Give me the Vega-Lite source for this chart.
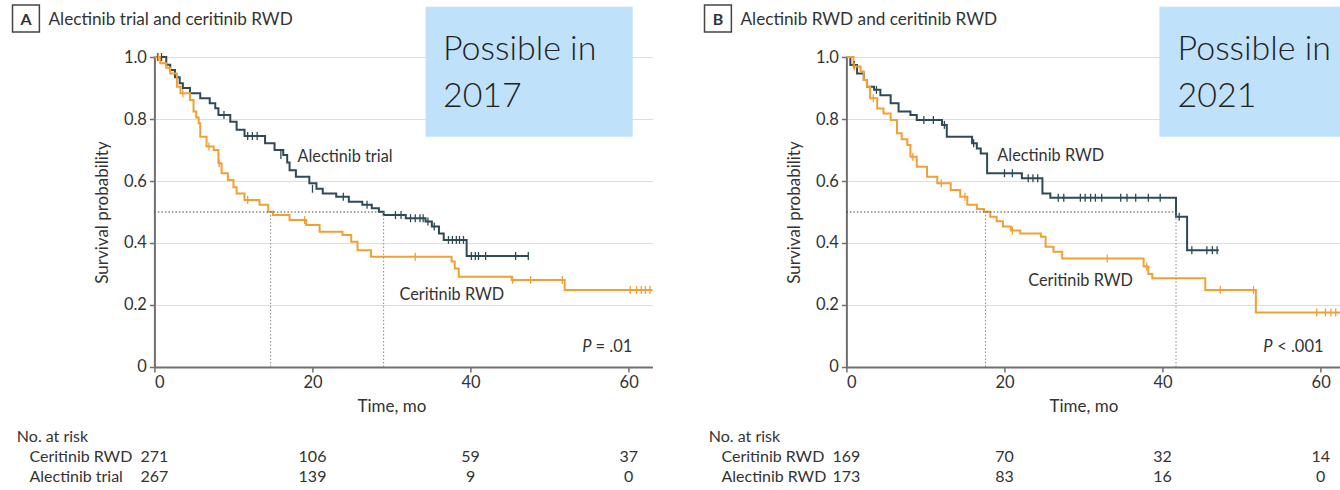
{
 "$schema": "https://vega.github.io/schema/vega-lite/v6.json",
 "background": "white",
 "autosize": {"type": "pad"},
 "padding": {"left": 11.4, "top": 4, "right": 0, "bottom": 0},
 "columns": 2,
 "bounds": "flush",
 "spacing": {"row": 60, "column": 194},
 "config": {
  "font": "Lato",
  "view": {"stroke": null},
  "axis": {"labelFont": "Lato", "titleFont": "Lato", "labelFontSize": 16.5, "titleFontSize": 17, "titleFontWeight": "normal", "labelColor": "#333333", "titleColor": "#333333", "domainColor": "#707070", "domainWidth": 2, "tickColor": "#707070", "tickWidth": 1.5, "tickSize": 5, "gridColor": "#DDDDDD", "gridWidth": 1},
  "text": {"font": "Lato", "color": "#333333"}
 },
 "datasets": {
  "curves": [
   {"panel":"A","arm":"Alectinib trial","time":0,"surv":1},{"panel":"A","arm":"Alectinib trial","time":1.5,"surv":0.975},{"panel":"A","arm":"Alectinib trial","time":2,"surv":0.958},{"panel":"A","arm":"Alectinib trial","time":2.6,"surv":0.935},{"panel":"A","arm":"Alectinib trial","time":3.2,"surv":0.915},{"panel":"A","arm":"Alectinib trial","time":3.6,"surv":0.9},{"panel":"A","arm":"Alectinib trial","time":4.5,"surv":0.883},{"panel":"A","arm":"Alectinib trial","time":5.8,"surv":0.867},{"panel":"A","arm":"Alectinib trial","time":7,"surv":0.851},{"panel":"A","arm":"Alectinib trial","time":7.7,"surv":0.835},{"panel":"A","arm":"Alectinib trial","time":8.1,"surv":0.813},{"panel":"A","arm":"Alectinib trial","time":9.6,"surv":0.791},{"panel":"A","arm":"Alectinib trial","time":10.4,"surv":0.765},{"panel":"A","arm":"Alectinib trial","time":11.4,"surv":0.745},{"panel":"A","arm":"Alectinib trial","time":14,"surv":0.722},{"panel":"A","arm":"Alectinib trial","time":15.2,"surv":0.7},{"panel":"A","arm":"Alectinib trial","time":16.3,"surv":0.684},{"panel":"A","arm":"Alectinib trial","time":16.8,"surv":0.66},{"panel":"A","arm":"Alectinib trial","time":17.1,"surv":0.635},{"panel":"A","arm":"Alectinib trial","time":17.9,"surv":0.614},{"panel":"A","arm":"Alectinib trial","time":19.6,"surv":0.593},{"panel":"A","arm":"Alectinib trial","time":20.5,"surv":0.575},{"panel":"A","arm":"Alectinib trial","time":21.3,"surv":0.56},{"panel":"A","arm":"Alectinib trial","time":23,"surv":0.549},{"panel":"A","arm":"Alectinib trial","time":24.6,"surv":0.533},{"panel":"A","arm":"Alectinib trial","time":26.3,"surv":0.523},{"panel":"A","arm":"Alectinib trial","time":27.5,"surv":0.512},{"panel":"A","arm":"Alectinib trial","time":28.4,"surv":0.501},{"panel":"A","arm":"Alectinib trial","time":29,"surv":0.49},{"panel":"A","arm":"Alectinib trial","time":31.8,"surv":0.48},{"panel":"A","arm":"Alectinib trial","time":34.3,"surv":0.469},{"panel":"A","arm":"Alectinib trial","time":35.1,"surv":0.453},{"panel":"A","arm":"Alectinib trial","time":36,"surv":0.431},{"panel":"A","arm":"Alectinib trial","time":36.6,"surv":0.41},{"panel":"A","arm":"Alectinib trial","time":39.5,"surv":0.358},{"panel":"A","arm":"Alectinib trial","time":47.3,"surv":0.358},
   {"panel":"A","arm":"Ceritinib RWD","time":0,"surv":1},{"panel":"A","arm":"Ceritinib RWD","time":0.75,"surv":0.98},{"panel":"A","arm":"Ceritinib RWD","time":1.5,"surv":0.965},{"panel":"A","arm":"Ceritinib RWD","time":2,"surv":0.947},{"panel":"A","arm":"Ceritinib RWD","time":2.85,"surv":0.904},{"panel":"A","arm":"Ceritinib RWD","time":3.3,"surv":0.883},{"panel":"A","arm":"Ceritinib RWD","time":4.5,"surv":0.861},{"panel":"A","arm":"Ceritinib RWD","time":4.95,"surv":0.824},{"panel":"A","arm":"Ceritinib RWD","time":5.3,"surv":0.805},{"panel":"A","arm":"Ceritinib RWD","time":5.6,"surv":0.786},{"panel":"A","arm":"Ceritinib RWD","time":5.8,"surv":0.743},{"panel":"A","arm":"Ceritinib RWD","time":6.6,"surv":0.711},{"panel":"A","arm":"Ceritinib RWD","time":7.5,"surv":0.7},{"panel":"A","arm":"Ceritinib RWD","time":8.1,"surv":0.657},{"panel":"A","arm":"Ceritinib RWD","time":8.5,"surv":0.625},{"panel":"A","arm":"Ceritinib RWD","time":9.3,"surv":0.603},{"panel":"A","arm":"Ceritinib RWD","time":10,"surv":0.58},{"panel":"A","arm":"Ceritinib RWD","time":10.4,"surv":0.56},{"panel":"A","arm":"Ceritinib RWD","time":11.4,"surv":0.539},{"panel":"A","arm":"Ceritinib RWD","time":13.3,"surv":0.523},{"panel":"A","arm":"Ceritinib RWD","time":14.4,"surv":0.501},{"panel":"A","arm":"Ceritinib RWD","time":15,"surv":0.49},{"panel":"A","arm":"Ceritinib RWD","time":17.1,"surv":0.474},{"panel":"A","arm":"Ceritinib RWD","time":19.2,"surv":0.458},{"panel":"A","arm":"Ceritinib RWD","time":20.9,"surv":0.436},{"panel":"A","arm":"Ceritinib RWD","time":23.8,"surv":0.426},{"panel":"A","arm":"Ceritinib RWD","time":24.9,"surv":0.404},{"panel":"A","arm":"Ceritinib RWD","time":25.7,"surv":0.377},{"panel":"A","arm":"Ceritinib RWD","time":27.4,"surv":0.356},{"panel":"A","arm":"Ceritinib RWD","time":37.6,"surv":0.34},{"panel":"A","arm":"Ceritinib RWD","time":38,"surv":0.318},{"panel":"A","arm":"Ceritinib RWD","time":38.5,"surv":0.291},{"panel":"A","arm":"Ceritinib RWD","time":45.2,"surv":0.281},{"panel":"A","arm":"Ceritinib RWD","time":51.9,"surv":0.248},{"panel":"A","arm":"Ceritinib RWD","time":63,"surv":0.248},
   {"panel":"B","arm":"Alectinib RWD","time":0,"surv":1},{"panel":"B","arm":"Alectinib RWD","time":0.5,"surv":0.974},{"panel":"B","arm":"Alectinib RWD","time":1.35,"surv":0.947},{"panel":"B","arm":"Alectinib RWD","time":2.2,"surv":0.926},{"panel":"B","arm":"Alectinib RWD","time":2.6,"surv":0.904},{"panel":"B","arm":"Alectinib RWD","time":3.5,"surv":0.894},{"panel":"B","arm":"Alectinib RWD","time":4.3,"surv":0.877},{"panel":"B","arm":"Alectinib RWD","time":5.6,"surv":0.851},{"panel":"B","arm":"Alectinib RWD","time":6.6,"surv":0.824},{"panel":"B","arm":"Alectinib RWD","time":8.1,"surv":0.813},{"panel":"B","arm":"Alectinib RWD","time":8.9,"surv":0.797},{"panel":"B","arm":"Alectinib RWD","time":12.1,"surv":0.781},{"panel":"B","arm":"Alectinib RWD","time":12.7,"surv":0.743},{"panel":"B","arm":"Alectinib RWD","time":15.9,"surv":0.722},{"panel":"B","arm":"Alectinib RWD","time":16.5,"surv":0.705},{"panel":"B","arm":"Alectinib RWD","time":17,"surv":0.689},{"panel":"B","arm":"Alectinib RWD","time":17.8,"surv":0.625},{"panel":"B","arm":"Alectinib RWD","time":22.2,"surv":0.609},{"panel":"B","arm":"Alectinib RWD","time":24.8,"surv":0.56},{"panel":"B","arm":"Alectinib RWD","time":25.8,"surv":0.546},{"panel":"B","arm":"Alectinib RWD","time":41.7,"surv":0.485},{"panel":"B","arm":"Alectinib RWD","time":43.1,"surv":0.377},{"panel":"B","arm":"Alectinib RWD","time":47.1,"surv":0.377},
   {"panel":"B","arm":"Ceritinib RWD","time":0,"surv":1},{"panel":"B","arm":"Ceritinib RWD","time":0.9,"surv":0.969},{"panel":"B","arm":"Ceritinib RWD","time":1.8,"surv":0.953},{"panel":"B","arm":"Ceritinib RWD","time":2.2,"surv":0.926},{"panel":"B","arm":"Ceritinib RWD","time":2.6,"surv":0.904},{"panel":"B","arm":"Ceritinib RWD","time":3,"surv":0.867},{"panel":"B","arm":"Ceritinib RWD","time":3.9,"surv":0.834},{"panel":"B","arm":"Ceritinib RWD","time":4.7,"surv":0.818},{"panel":"B","arm":"Ceritinib RWD","time":5.6,"surv":0.797},{"panel":"B","arm":"Ceritinib RWD","time":6.4,"surv":0.754},{"panel":"B","arm":"Ceritinib RWD","time":7,"surv":0.735},{"panel":"B","arm":"Ceritinib RWD","time":7.7,"surv":0.716},{"panel":"B","arm":"Ceritinib RWD","time":8.1,"surv":0.678},{"panel":"B","arm":"Ceritinib RWD","time":8.9,"surv":0.646},{"panel":"B","arm":"Ceritinib RWD","time":10.2,"surv":0.614},{"panel":"B","arm":"Ceritinib RWD","time":11.5,"surv":0.593},{"panel":"B","arm":"Ceritinib RWD","time":13.2,"surv":0.571},{"panel":"B","arm":"Ceritinib RWD","time":14.4,"surv":0.549},{"panel":"B","arm":"Ceritinib RWD","time":15.3,"surv":0.523},{"panel":"B","arm":"Ceritinib RWD","time":16.5,"surv":0.51},{"panel":"B","arm":"Ceritinib RWD","time":17.4,"surv":0.501},{"panel":"B","arm":"Ceritinib RWD","time":18.2,"surv":0.485},{"panel":"B","arm":"Ceritinib RWD","time":19,"surv":0.47},{"panel":"B","arm":"Ceritinib RWD","time":19.8,"surv":0.453},{"panel":"B","arm":"Ceritinib RWD","time":20.8,"surv":0.44},{"panel":"B","arm":"Ceritinib RWD","time":22,"surv":0.431},{"panel":"B","arm":"Ceritinib RWD","time":24.6,"surv":0.42},{"panel":"B","arm":"Ceritinib RWD","time":25.2,"surv":0.388},{"panel":"B","arm":"Ceritinib RWD","time":26.2,"surv":0.372},{"panel":"B","arm":"Ceritinib RWD","time":27.3,"surv":0.35},{"panel":"B","arm":"Ceritinib RWD","time":37.6,"surv":0.324},{"panel":"B","arm":"Ceritinib RWD","time":38.2,"surv":0.3},{"panel":"B","arm":"Ceritinib RWD","time":38.7,"surv":0.286},{"panel":"B","arm":"Ceritinib RWD","time":45.4,"surv":0.248},{"panel":"B","arm":"Ceritinib RWD","time":51.8,"surv":0.176},{"panel":"B","arm":"Ceritinib RWD","time":63,"surv":0.176}
  ],
  "censor": [
   {"panel":"A","arm":"Alectinib trial","time":0.4,"surv":1},{"panel":"A","arm":"Alectinib trial","time":0.9,"surv":1},{"panel":"A","arm":"Alectinib trial","time":8.8,"surv":0.813},{"panel":"A","arm":"Alectinib trial","time":11.8,"surv":0.745},{"panel":"A","arm":"Alectinib trial","time":12.4,"surv":0.745},{"panel":"A","arm":"Alectinib trial","time":13,"surv":0.745},{"panel":"A","arm":"Alectinib trial","time":16,"surv":0.684},{"panel":"A","arm":"Alectinib trial","time":20,"surv":0.575},{"panel":"A","arm":"Alectinib trial","time":23.9,"surv":0.549},{"panel":"A","arm":"Alectinib trial","time":26.9,"surv":0.523},{"panel":"A","arm":"Alectinib trial","time":30.5,"surv":0.49},{"panel":"A","arm":"Alectinib trial","time":31.2,"surv":0.49},{"panel":"A","arm":"Alectinib trial","time":32.4,"surv":0.48},{"panel":"A","arm":"Alectinib trial","time":33,"surv":0.48},{"panel":"A","arm":"Alectinib trial","time":33.6,"surv":0.48},{"panel":"A","arm":"Alectinib trial","time":34,"surv":0.48},{"panel":"A","arm":"Alectinib trial","time":34.6,"surv":0.469},{"panel":"A","arm":"Alectinib trial","time":35.4,"surv":0.453},{"panel":"A","arm":"Alectinib trial","time":37.2,"surv":0.41},{"panel":"A","arm":"Alectinib trial","time":37.7,"surv":0.41},{"panel":"A","arm":"Alectinib trial","time":38.2,"surv":0.41},{"panel":"A","arm":"Alectinib trial","time":38.6,"surv":0.41},{"panel":"A","arm":"Alectinib trial","time":39.1,"surv":0.41},{"panel":"A","arm":"Alectinib trial","time":40.1,"surv":0.358},{"panel":"A","arm":"Alectinib trial","time":40.6,"surv":0.358},{"panel":"A","arm":"Alectinib trial","time":41,"surv":0.358},{"panel":"A","arm":"Alectinib trial","time":41.9,"surv":0.358},{"panel":"A","arm":"Alectinib trial","time":45.7,"surv":0.358},{"panel":"A","arm":"Alectinib trial","time":47.3,"surv":0.358},
   {"panel":"A","arm":"Ceritinib RWD","time":0.5,"surv":1},{"panel":"A","arm":"Ceritinib RWD","time":3.6,"surv":0.883},{"panel":"A","arm":"Ceritinib RWD","time":6.9,"surv":0.711},{"panel":"A","arm":"Ceritinib RWD","time":8.2,"surv":0.657},{"panel":"A","arm":"Ceritinib RWD","time":11.8,"surv":0.539},{"panel":"A","arm":"Ceritinib RWD","time":19,"surv":0.474},{"panel":"A","arm":"Ceritinib RWD","time":33,"surv":0.356},{"panel":"A","arm":"Ceritinib RWD","time":45.3,"surv":0.281},{"panel":"A","arm":"Ceritinib RWD","time":47.6,"surv":0.281},{"panel":"A","arm":"Ceritinib RWD","time":51.6,"surv":0.281},{"panel":"A","arm":"Ceritinib RWD","time":60.2,"surv":0.248},{"panel":"A","arm":"Ceritinib RWD","time":61,"surv":0.248},{"panel":"A","arm":"Ceritinib RWD","time":61.6,"surv":0.248},{"panel":"A","arm":"Ceritinib RWD","time":62.1,"surv":0.248},{"panel":"A","arm":"Ceritinib RWD","time":62.7,"surv":0.248},
   {"panel":"B","arm":"Alectinib RWD","time":1,"surv":0.974},{"panel":"B","arm":"Alectinib RWD","time":3.8,"surv":0.894},{"panel":"B","arm":"Alectinib RWD","time":9.8,"surv":0.797},{"panel":"B","arm":"Alectinib RWD","time":11,"surv":0.797},{"panel":"B","arm":"Alectinib RWD","time":12.4,"surv":0.781},{"panel":"B","arm":"Alectinib RWD","time":16.1,"surv":0.722},{"panel":"B","arm":"Alectinib RWD","time":20,"surv":0.625},{"panel":"B","arm":"Alectinib RWD","time":21,"surv":0.625},{"panel":"B","arm":"Alectinib RWD","time":23,"surv":0.609},{"panel":"B","arm":"Alectinib RWD","time":23.6,"surv":0.609},{"panel":"B","arm":"Alectinib RWD","time":24.2,"surv":0.609},{"panel":"B","arm":"Alectinib RWD","time":26.8,"surv":0.546},{"panel":"B","arm":"Alectinib RWD","time":27.5,"surv":0.546},{"panel":"B","arm":"Alectinib RWD","time":29.6,"surv":0.546},{"panel":"B","arm":"Alectinib RWD","time":30.2,"surv":0.546},{"panel":"B","arm":"Alectinib RWD","time":30.9,"surv":0.546},{"panel":"B","arm":"Alectinib RWD","time":31.5,"surv":0.546},{"panel":"B","arm":"Alectinib RWD","time":32.3,"surv":0.546},{"panel":"B","arm":"Alectinib RWD","time":34.7,"surv":0.546},{"panel":"B","arm":"Alectinib RWD","time":35.5,"surv":0.546},{"panel":"B","arm":"Alectinib RWD","time":36.6,"surv":0.546},{"panel":"B","arm":"Alectinib RWD","time":38.2,"surv":0.546},{"panel":"B","arm":"Alectinib RWD","time":39.7,"surv":0.546},{"panel":"B","arm":"Alectinib RWD","time":42.1,"surv":0.485},{"panel":"B","arm":"Alectinib RWD","time":43.7,"surv":0.377},{"panel":"B","arm":"Alectinib RWD","time":45.6,"surv":0.377},{"panel":"B","arm":"Alectinib RWD","time":46.3,"surv":0.377},{"panel":"B","arm":"Alectinib RWD","time":46.9,"surv":0.377},
   {"panel":"B","arm":"Ceritinib RWD","time":1,"surv":0.969},{"panel":"B","arm":"Ceritinib RWD","time":3.4,"surv":0.867},{"panel":"B","arm":"Ceritinib RWD","time":8.4,"surv":0.678},{"panel":"B","arm":"Ceritinib RWD","time":12,"surv":0.593},{"panel":"B","arm":"Ceritinib RWD","time":15,"surv":0.549},{"panel":"B","arm":"Ceritinib RWD","time":21,"surv":0.44},{"panel":"B","arm":"Ceritinib RWD","time":33,"surv":0.35},{"panel":"B","arm":"Ceritinib RWD","time":38,"surv":0.324},{"panel":"B","arm":"Ceritinib RWD","time":47.3,"surv":0.248},{"panel":"B","arm":"Ceritinib RWD","time":51.5,"surv":0.248},{"panel":"B","arm":"Ceritinib RWD","time":59.5,"surv":0.176},{"panel":"B","arm":"Ceritinib RWD","time":60.6,"surv":0.176},{"panel":"B","arm":"Ceritinib RWD","time":61.3,"surv":0.176},{"panel":"B","arm":"Ceritinib RWD","time":61.9,"surv":0.176}
  ],
  "medians": [
   {"panel":"A","arm":"Ceritinib RWD","time":14.7,"from":0},{"panel":"A","arm":"Alectinib trial","time":29,"from":0},
   {"panel":"B","arm":"Ceritinib RWD","time":17.6,"from":0},{"panel":"B","arm":"Alectinib RWD","time":41.7,"from":0}
  ],
  "header": [{"panel":"A","row":"No. at risk"},{"panel":"B","row":"No. at risk"}],
  "risk": [
   {"panel":"A","arm":"Ceritinib RWD","time":0,"n":271},{"panel":"A","arm":"Ceritinib RWD","time":20,"n":106},{"panel":"A","arm":"Ceritinib RWD","time":40,"n":59},{"panel":"A","arm":"Ceritinib RWD","time":60,"n":37},
   {"panel":"A","arm":"Alectinib trial","time":0,"n":267},{"panel":"A","arm":"Alectinib trial","time":20,"n":139},{"panel":"A","arm":"Alectinib trial","time":40,"n":9},{"panel":"A","arm":"Alectinib trial","time":60,"n":0},
   {"panel":"B","arm":"Ceritinib RWD","time":0,"n":169},{"panel":"B","arm":"Ceritinib RWD","time":20,"n":70},{"panel":"B","arm":"Ceritinib RWD","time":40,"n":32},{"panel":"B","arm":"Ceritinib RWD","time":60,"n":14},
   {"panel":"B","arm":"Alectinib RWD","time":0,"n":173},{"panel":"B","arm":"Alectinib RWD","time":20,"n":83},{"panel":"B","arm":"Alectinib RWD","time":40,"n":16},{"panel":"B","arm":"Alectinib RWD","time":60,"n":0}
  ]
 },
 "concat": [
  {
   "width": 498, "height": 310,
   "layer": [
    {"data": {"name": "curves"}, "transform": [{"filter": "datum.panel == 'A'"}], "mark": {"type": "line", "interpolate": "step-after", "strokeWidth": 2},
     "encoding": {
      "x": {"field": "time", "type": "quantitative", "scale": {"domain": [0, 63], "nice": false, "zero": false}, "axis": {"values": [0, 20, 40, 60], "title": "Time, mo", "titleX": 237, "grid": false, "labelPadding": 3, "titlePadding": 7, "format": "d"}},
      "y": {"field": "surv", "type": "quantitative", "scale": {"domain": [0, 1], "nice": false}, "axis": {"values": [0, 0.2, 0.4, 0.6, 0.8, 1], "labelExpr": "datum.value == 0 ? '0' : format(datum.value, '.1f')", "title": "Survival probability", "grid": true, "titlePadding": 12, "labelPadding": 3}},
      "color": {"field": "arm", "type": "nominal", "scale": {"domain": ["Ceritinib RWD", "Alectinib trial", "Alectinib RWD"], "range": ["#F0A035", "#2E4A57", "#2E4A57"]}, "legend": null}
     }},
    {"data": {"values": [{}]}, "mark": {"type": "rect", "color": "#BFE1FA"}, "encoding": {"x": {"datum": 34.3, "type": "quantitative"}, "x2": {"datum": 60.5}, "y": {"datum": 1.162, "type": "quantitative"}, "y2": {"datum": 0.743}}},
    {"data": {"name": "medians"}, "transform": [{"filter": "datum.panel == 'A' && datum.arm != 'Ceritinib RWD'"}], "mark": {"type": "rule", "color": "#444444", "strokeDash": [1.5, 2], "strokeWidth": 1}, "encoding": {"x": {"field": "from", "type": "quantitative"}, "x2": {"field": "time"}, "y": {"datum": 0.5, "type": "quantitative"}}},
    {"data": {"name": "medians"}, "transform": [{"filter": "datum.panel == 'A'"}], "mark": {"type": "rule", "color": "#8A8A8A", "strokeDash": [1.5, 2], "strokeWidth": 1}, "encoding": {"x": {"field": "time", "type": "quantitative"}, "y": {"datum": 0, "type": "quantitative"}, "y2": {"datum": 0.5}}},
    {"data": {"name": "censor"}, "transform": [{"filter": "datum.panel == 'A'"}], "mark": {"type": "point", "shape": "M0,-1L0,1", "size": 64, "filled": false, "strokeWidth": 1.3, "opacity": 1},
     "encoding": {"x": {"field": "time", "type": "quantitative"}, "y": {"field": "surv", "type": "quantitative"}, "color": {"field": "arm", "type": "nominal", "legend": null}}},
    {"data": {"values": [{}]}, "mark": {"type": "text", "align": "left", "baseline": "middle", "fontSize": 16.3}, "encoding": {"x": {"datum": 18.1, "type": "quantitative"}, "y": {"datum": 0.677, "type": "quantitative"}, "text": {"value": "Alectinib trial"}}},
    {"data": {"values": [{}]}, "mark": {"type": "text", "align": "left", "baseline": "middle", "fontSize": 16.3}, "encoding": {"x": {"datum": 31, "type": "quantitative"}, "y": {"datum": 0.232, "type": "quantitative"}, "text": {"value": "Ceritinib RWD"}}},
    {"data": {"values": [{}]}, "mark": {"type": "text", "align": "right", "baseline": "middle", "fontSize": 16.5, "fontStyle": "italic"}, "encoding": {"x": {"datum": 55.3, "type": "quantitative"}, "y": {"datum": 0.066, "type": "quantitative"}, "text": {"value": "P"}}},
    {"data": {"values": [{}]}, "mark": {"type": "text", "align": "left", "baseline": "middle", "fontSize": 16.5}, "encoding": {"x": {"datum": 55.8, "type": "quantitative"}, "y": {"datum": 0.066, "type": "quantitative"}, "text": {"value": "= .01"}}},
    {"data": {"values": [{}]}, "mark": {"type": "text", "align": "left", "baseline": "alphabetic", "fontSize": 34, "fontWeight": 300, "color": "#222222"}, "encoding": {"x": {"datum": 36.5, "type": "quantitative"}, "y": {"datum": 0.99, "type": "quantitative"}, "text": {"value": "Possible in"}}},
    {"data": {"values": [{}]}, "mark": {"type": "text", "align": "left", "baseline": "alphabetic", "fontSize": 34, "fontWeight": 300, "color": "#222222"}, "encoding": {"x": {"datum": 36.5, "type": "quantitative"}, "y": {"datum": 0.839, "type": "quantitative"}, "text": {"value": "2017"}}},
    {"data": {"values": [{}]}, "mark": {"type": "rect", "fill": "white", "stroke": "#444444", "strokeWidth": 1.5}, "encoding": {"x": {"datum": -17.95, "type": "quantitative"}, "x2": {"datum": -14.55}, "y": {"datum": 1.168, "type": "quantitative"}, "y2": {"datum": 1.081}}},
    {"data": {"values": [{}]}, "mark": {"type": "text", "align": "center", "baseline": "alphabetic", "fontSize": 16, "fontWeight": "bold"}, "encoding": {"x": {"datum": -16.25, "type": "quantitative"}, "y": {"datum": 1.103, "type": "quantitative"}, "text": {"value": "A"}}},
    {"data": {"values": [{}]}, "mark": {"type": "text", "align": "left", "baseline": "alphabetic", "fontSize": 17.2}, "encoding": {"x": {"datum": -13.4, "type": "quantitative"}, "y": {"datum": 1.103, "type": "quantitative"}, "text": {"value": "Alectinib trial and ceritinib RWD"}}}
   ]
  },
  {
   "width": 498, "height": 310,
   "layer": [
    {"data": {"name": "curves"}, "transform": [{"filter": "datum.panel == 'B'"}], "mark": {"type": "line", "interpolate": "step-after", "strokeWidth": 2},
     "encoding": {
      "x": {"field": "time", "type": "quantitative", "scale": {"domain": [0, 63], "nice": false, "zero": false}, "axis": {"values": [0, 20, 40, 60], "title": "Time, mo", "titleX": 237, "grid": false, "labelPadding": 3, "titlePadding": 7, "format": "d"}},
      "y": {"field": "surv", "type": "quantitative", "scale": {"domain": [0, 1], "nice": false}, "axis": {"values": [0, 0.2, 0.4, 0.6, 0.8, 1], "labelExpr": "datum.value == 0 ? '0' : format(datum.value, '.1f')", "title": "Survival probability", "grid": true, "titlePadding": 12, "labelPadding": 3}},
      "color": {"field": "arm", "type": "nominal", "scale": {"domain": ["Ceritinib RWD", "Alectinib trial", "Alectinib RWD"], "range": ["#F0A035", "#2E4A57", "#2E4A57"]}, "legend": null}
     }},
    {"data": {"values": [{}]}, "mark": {"type": "rect", "color": "#BFE1FA"}, "encoding": {"x": {"datum": 39.6, "type": "quantitative"}, "x2": {"datum": 64}, "y": {"datum": 1.162, "type": "quantitative"}, "y2": {"datum": 0.743}}},
    {"data": {"name": "medians"}, "transform": [{"filter": "datum.panel == 'B' && datum.arm != 'Ceritinib RWD'"}], "mark": {"type": "rule", "color": "#444444", "strokeDash": [1.5, 2], "strokeWidth": 1}, "encoding": {"x": {"field": "from", "type": "quantitative"}, "x2": {"field": "time"}, "y": {"datum": 0.5, "type": "quantitative"}}},
    {"data": {"name": "medians"}, "transform": [{"filter": "datum.panel == 'B'"}], "mark": {"type": "rule", "color": "#8A8A8A", "strokeDash": [1.5, 2], "strokeWidth": 1}, "encoding": {"x": {"field": "time", "type": "quantitative"}, "y": {"datum": 0, "type": "quantitative"}, "y2": {"datum": 0.5}}},
    {"data": {"name": "censor"}, "transform": [{"filter": "datum.panel == 'B'"}], "mark": {"type": "point", "shape": "M0,-1L0,1", "size": 64, "filled": false, "strokeWidth": 1.3, "opacity": 1},
     "encoding": {"x": {"field": "time", "type": "quantitative"}, "y": {"field": "surv", "type": "quantitative"}, "color": {"field": "arm", "type": "nominal", "legend": null}}},
    {"data": {"values": [{}]}, "mark": {"type": "text", "align": "left", "baseline": "middle", "fontSize": 16.3}, "encoding": {"x": {"datum": 19.1, "type": "quantitative"}, "y": {"datum": 0.681, "type": "quantitative"}, "text": {"value": "Alectinib RWD"}}},
    {"data": {"values": [{}]}, "mark": {"type": "text", "align": "left", "baseline": "middle", "fontSize": 16.3}, "encoding": {"x": {"datum": 23, "type": "quantitative"}, "y": {"datum": 0.277, "type": "quantitative"}, "text": {"value": "Ceritinib RWD"}}},
    {"data": {"values": [{}]}, "mark": {"type": "text", "align": "right", "baseline": "middle", "fontSize": 16.5, "fontStyle": "italic"}, "encoding": {"x": {"datum": 53.9, "type": "quantitative"}, "y": {"datum": 0.066, "type": "quantitative"}, "text": {"value": "P"}}},
    {"data": {"values": [{}]}, "mark": {"type": "text", "align": "left", "baseline": "middle", "fontSize": 16.5}, "encoding": {"x": {"datum": 54.5, "type": "quantitative"}, "y": {"datum": 0.066, "type": "quantitative"}, "text": {"value": "< .001"}}},
    {"data": {"values": [{}]}, "mark": {"type": "text", "align": "left", "baseline": "alphabetic", "fontSize": 34, "fontWeight": 300, "color": "#222222"}, "encoding": {"x": {"datum": 41.9, "type": "quantitative"}, "y": {"datum": 0.99, "type": "quantitative"}, "text": {"value": "Possible in"}}},
    {"data": {"values": [{}]}, "mark": {"type": "text", "align": "left", "baseline": "alphabetic", "fontSize": 34, "fontWeight": 300, "color": "#222222"}, "encoding": {"x": {"datum": 41.9, "type": "quantitative"}, "y": {"datum": 0.839, "type": "quantitative"}, "text": {"value": "2021"}}},
    {"data": {"values": [{}]}, "mark": {"type": "rect", "fill": "white", "stroke": "#444444", "strokeWidth": 1.5}, "encoding": {"x": {"datum": -17.95, "type": "quantitative"}, "x2": {"datum": -14.55}, "y": {"datum": 1.168, "type": "quantitative"}, "y2": {"datum": 1.081}}},
    {"data": {"values": [{}]}, "mark": {"type": "text", "align": "center", "baseline": "alphabetic", "fontSize": 16, "fontWeight": "bold"}, "encoding": {"x": {"datum": -16.25, "type": "quantitative"}, "y": {"datum": 1.103, "type": "quantitative"}, "text": {"value": "B"}}},
    {"data": {"values": [{}]}, "mark": {"type": "text", "align": "left", "baseline": "alphabetic", "fontSize": 17.2}, "encoding": {"x": {"datum": -13.4, "type": "quantitative"}, "y": {"datum": 1.103, "type": "quantitative"}, "text": {"value": "Alectinib RWD and ceritinib RWD"}}}
   ]
  },
  {
   "width": 498, "height": 60,
   "layer": [
    {"data": {"name": "risk"}, "transform": [{"filter": "datum.panel == 'A'"}], "mark": {"type": "text", "fontSize": 16, "baseline": "middle"},
     "encoding": {"x": {"field": "time", "type": "quantitative", "scale": {"domain": [0, 63], "nice": false, "zero": false}, "axis": null}, "y": {"field": "arm", "type": "nominal", "scale": {"type": "point", "domain": ["No. at risk", "Ceritinib RWD", "Alectinib trial"], "padding": 0.5}, "axis": null}, "text": {"field": "n", "type": "quantitative"}}},
    {"data": {"name": "risk"}, "transform": [{"filter": "datum.panel == 'A' && datum.time == 0"}], "mark": {"type": "text", "align": "left", "fontSize": 16, "baseline": "middle"}, "encoding": {"x": {"datum": -15.8, "type": "quantitative"}, "y": {"field": "arm", "type": "nominal", "axis": null}, "text": {"field": "arm", "type": "nominal"}}},
    {"data": {"name": "header"}, "transform": [{"filter": "datum.panel == 'A'"}], "mark": {"type": "text", "align": "left", "fontSize": 16, "baseline": "middle"}, "encoding": {"x": {"datum": -17.4, "type": "quantitative"}, "y": {"field": "row", "type": "nominal", "axis": null}, "text": {"field": "row", "type": "nominal"}}}
   ]
  },
  {
   "width": 498, "height": 60,
   "layer": [
    {"data": {"name": "risk"}, "transform": [{"filter": "datum.panel == 'B'"}], "mark": {"type": "text", "fontSize": 16, "baseline": "middle"},
     "encoding": {"x": {"field": "time", "type": "quantitative", "scale": {"domain": [0, 63], "nice": false, "zero": false}, "axis": null}, "y": {"field": "arm", "type": "nominal", "scale": {"type": "point", "domain": ["No. at risk", "Ceritinib RWD", "Alectinib RWD"], "padding": 0.5}, "axis": null}, "text": {"field": "n", "type": "quantitative"}}},
    {"data": {"name": "risk"}, "transform": [{"filter": "datum.panel == 'B' && datum.time == 0"}], "mark": {"type": "text", "align": "left", "fontSize": 16, "baseline": "middle"}, "encoding": {"x": {"datum": -15.8, "type": "quantitative"}, "y": {"field": "arm", "type": "nominal", "axis": null}, "text": {"field": "arm", "type": "nominal"}}},
    {"data": {"name": "header"}, "transform": [{"filter": "datum.panel == 'B'"}], "mark": {"type": "text", "align": "left", "fontSize": 16, "baseline": "middle"}, "encoding": {"x": {"datum": -17.4, "type": "quantitative"}, "y": {"field": "row", "type": "nominal", "axis": null}, "text": {"field": "row", "type": "nominal"}}}
   ]
  }
 ]
}
